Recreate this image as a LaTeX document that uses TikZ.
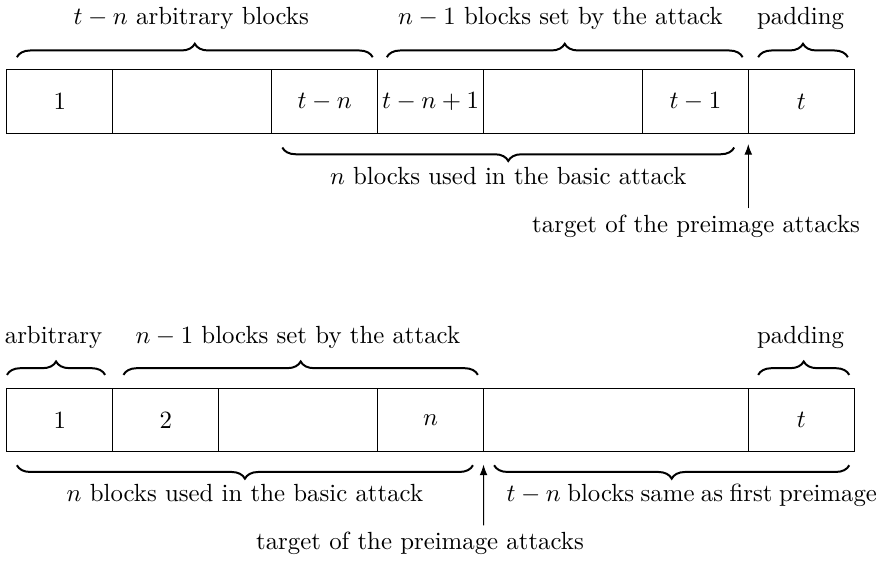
\documentclass[tikz,border=0pt]{standalone}
\usetikzlibrary{decorations.pathreplacing,arrows.meta}
\begin{document}
\begin{tikzpicture}[
  cell/.style={draw, line width=0.4pt, minimum height=0.9cm, inner sep=0pt, outer sep=0pt, anchor=north west},
  brc/.style={decorate, decoration={brace, amplitude=0.19cm}, line width=0.8pt},
  lbl/.style={anchor=base, inner sep=0pt},
  arr/.style={-{Latex[length=1.5mm,width=1.1mm]}, line width=0.4pt},
]
\useasboundingbox (-0.099,-7.946) rectangle (12.394,0);
% ---------- top row ----------
\node[cell, minimum width=1.5cm]  (a1) at (0,-0.99)    {$1$};
\node[cell, minimum width=2.25cm] (a2) at (1.5,-0.99)  {};
\node[cell, minimum width=1.5cm]  (a3) at (3.75,-0.99) {$t-n$};
\node[cell, minimum width=1.5cm]  (a4) at (5.25,-0.99) {$t-n+1$};
\node[cell, minimum width=2.25cm] (a5) at (6.75,-0.99) {};
\node[cell, minimum width=1.5cm]  (a6) at (9,-0.99)    {$t-1$};
\node[cell, minimum width=1.5cm]  (a7) at (10.5,-0.99) {$t$};
% braces above
\coordinate (u1s) at (0.14,-0.81);  \coordinate (u1e) at (5.18,-0.81);
\coordinate (u2s) at (5.38,-0.81);  \coordinate (u2e) at (10.42,-0.81);
\coordinate (u3s) at (10.64,-0.81); \coordinate (u3e) at (11.91,-0.81);
\draw[brc] (u1s) -- (u1e);
\draw[brc] (u2s) -- (u2e);
\draw[brc] (u3s) -- (u3e);
\node[lbl] (ul1) at (2.61,-0.354) {$t-n$ arbitrary blocks};
\node[lbl] (ul2) at (7.84,-0.354) {$n-1$ blocks set by the attack};
\node[lbl] (ul3) at (11.24,-0.354) {padding};
% brace below
\coordinate (d1s) at (10.3,-2.09); \coordinate (d1e) at (3.9,-2.09);
\draw[brc] (d1s) -- (d1e);
\node[lbl] (dl1) at (7.1,-2.62) {$n$ blocks used in the basic attack};
% target arrow
\coordinate (t1) at (10.5,-2.95);
\draw[arr] (t1) -- ([yshift=-0.15cm]a6.south east);
\node[lbl] (tl1) at (9.76,-3.30) {target of the preimage attacks};
% ---------- bottom row ----------
\node[cell, minimum width=1.5cm]  (b1) at (0,-5.50)    {$1$};
\node[cell, minimum width=1.5cm]  (b2) at (1.5,-5.50)  {$2$};
\node[cell, minimum width=2.25cm] (b3) at (3,-5.50)    {};
\node[cell, minimum width=1.5cm]  (b4) at (5.25,-5.50) {$n$};
\node[cell, minimum width=3.75cm] (b5) at (6.75,-5.50) {};
\node[cell, minimum width=1.5cm]  (b6) at (10.5,-5.50) {$t$};
% braces above
\coordinate (v1s) at (0.0,-5.31);   \coordinate (v1e) at (1.39,-5.31);
\coordinate (v2s) at (1.65,-5.31);  \coordinate (v2e) at (6.67,-5.31);
\coordinate (v3s) at (10.64,-5.31); \coordinate (v3e) at (11.93,-5.31);
\draw[brc] (v1s) -- (v1e);
\draw[brc] (v2s) -- (v2e);
\draw[brc] (v3s) -- (v3e);
\node[lbl] (vl1) at (0.66,-4.86) {arbitrary};
\node[lbl] (vl2) at (4.12,-4.86) {$n-1$ blocks set by the attack};
\node[lbl] (vl3) at (11.24,-4.86) {padding};
% braces below
\coordinate (e1s) at (6.6,-6.59);  \coordinate (e1e) at (0.14,-6.59);
\coordinate (e2s) at (11.93,-6.59); \coordinate (e2e) at (6.9,-6.59);
\draw[brc] (e1s) -- (e1e);
\draw[brc] (e2s) -- (e2e);
\node[lbl] (el1) at (3.37,-7.11) {$n$ blocks used in the basic attack};
\node[lbl, anchor=base east] (el2) at (12.33,-7.11) {\spaceskip=2.6pt plus 0.5pt minus 0.5pt $t-n$ blocks same as first preimage};
% target arrow
\coordinate (t2) at (6.75,-7.44);
\draw[arr] (t2) -- ([yshift=-0.18cm]b4.south east);
\node[lbl] (tl2) at (5.85,-7.79) {target of the preimage attacks};
\end{tikzpicture}
\end{document}
